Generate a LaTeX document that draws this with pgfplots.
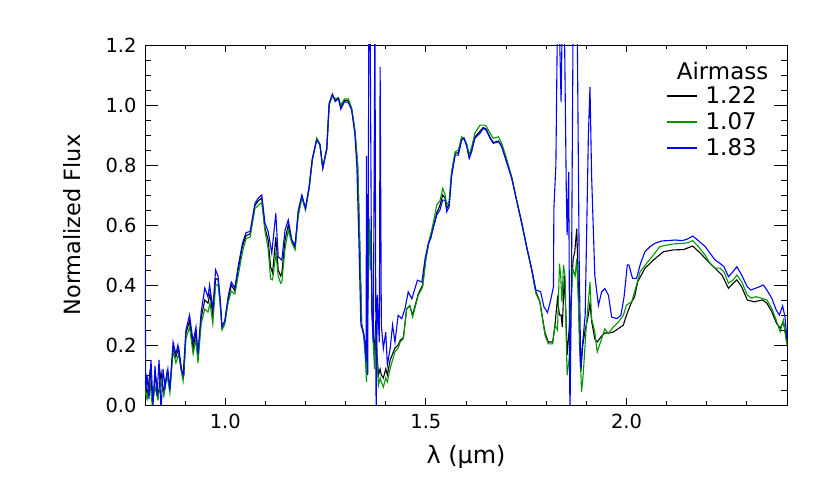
\documentclass[border=0pt]{standalone}
\usepackage{pgfplots}
\pgfplotsset{compat=1.18}
\usepackage{fontspec}
\setmainfont{DejaVu Sans}
\definecolor{cgreen}{RGB}{0,150,0}
\definecolor{cblue}{RGB}{0,0,255}
\begin{document}
\begin{tikzpicture}
\useasboundingbox (-145bp,-93bp) rectangle (685bp,405bp);
\begin{axis}[
  at={(0,0)}, anchor=south west,
  width=642bp, height=360bp, scale only axis,
  xmin=0.8, xmax=2.4, ymin=0, ymax=1.2,
  xtick={1.0,1.5,2.0},
  minor xtick={0.8,0.9,1.1,1.2,1.3,1.4,1.6,1.7,1.8,1.9,2.1,2.2,2.3,2.4},
  ytick={0,0.2,0.4,0.6,0.8,1.0,1.2},
  minor ytick={0.05,0.1,0.15,0.25,0.3,0.35,0.45,0.5,0.55,0.65,0.7,0.75,0.85,0.9,0.95,1.05,1.1,1.15},
  tick align=inside,
  every major x tick/.append style={/pgfplots/major tick length=7.2bp},
  every minor x tick/.append style={/pgfplots/minor tick length=3.6bp},
  every major y tick/.append style={/pgfplots/major tick length=12.8bp},
  every minor y tick/.append style={/pgfplots/minor tick length=6.4bp},
  major tick length=10bp, minor tick length=5bp,
  tick style={line width=0.9bp, black},
  axis line style={line width=0.9bp},
  /pgf/number format/assume math mode=true,
  /pgf/number format/.cd, fixed, fixed zerofill, precision=1, /pgfplots/.cd,
  ticklabel style={font=\fontsize{19.5}{23}\selectfont},
  xticklabel style={yshift=-6bp},
  yticklabel style={xshift=-5bp},
  xlabel={λ (μm)},
  ylabel={Normalized Flux},
  xlabel style={at={([yshift=-58bp]axis description cs:0.5,0)}, anchor=base, font=\fontsize{24}{27}\selectfont},
  ylabel style={at={([xshift=-73bp]axis description cs:0,0.5)}, anchor=center, font=\fontsize{22.5}{26}\selectfont},
  legend style={at={(rel axis cs:0.811,0.889)}, anchor=north west, draw=none, fill=none,
    font=\fontsize{23}{26}\selectfont, inner sep=0pt, row sep=4.5bp, column sep=7bp,
    nodes={inner sep=1.5bp}},
  legend cell align=left,
  legend image code/.code={\draw[#1, line width=1.3bp] (0bp,0bp) -- (30bp,0bp);},
  every axis plot/.append style={line width=1.1bp},
  clip=true,
]
\addplot[black] coordinates {
(0.800,0.08)(0.806,0.03)(0.813,0.12)(0.819,0.01)(0.826,0.10)(0.833,0.03)(0.840,0.11)(0.847,0.04)(0.855,0.11)(0.862,0.06)(0.870,0.19)(0.877,0.16)(0.884,0.19)(0.892,0.11)(0.897,0.10)(0.902,0.24)(0.911,0.28)(0.920,0.19)(0.927,0.24)(0.932,0.16)(0.940,0.29)(0.949,0.35)(0.957,0.34)(0.962,0.37)(0.969,0.30)(0.976,0.42)(0.982,0.42)(0.987,0.35)(0.992,0.26)(0.999,0.28)(1.007,0.35)(1.015,0.40)(1.024,0.38)(1.032,0.45)(1.043,0.53)(1.052,0.565)(1.062,0.57)(1.074,0.665)(1.082,0.68)(1.091,0.69)(1.099,0.59)(1.107,0.55)(1.113,0.46)(1.118,0.44)(1.126,0.56)(1.132,0.45)(1.138,0.43)(1.141,0.44)(1.149,0.55)(1.157,0.60)(1.166,0.545)(1.174,0.525)(1.182,0.64)(1.191,0.695)(1.200,0.653)(1.209,0.724)(1.217,0.818)(1.228,0.886)(1.236,0.868)(1.243,0.79)(1.253,0.853)(1.259,1.003)(1.267,1.033)(1.274,1.015)(1.282,1.023)(1.288,0.993)(1.297,1.015)(1.307,1.014)(1.315,0.987)(1.323,0.913)(1.330,0.80)(1.335,0.55)(1.340,0.27)(1.345,0.24)(1.349,0.19)(1.352,0.12)(1.355,0.35)(1.357,0.63)(1.359,0.57)(1.361,0.50)(1.364,0.55)(1.366,0.32)(1.369,0.22)(1.372,0.18)(1.375,0.28)(1.378,0.17)(1.382,0.10)(1.386,0.12)(1.389,0.10)(1.394,0.09)(1.400,0.12)(1.404,0.10)(1.411,0.15)(1.417,0.17)(1.423,0.19)(1.431,0.20)(1.436,0.215)(1.444,0.225)(1.452,0.32)(1.460,0.33)(1.467,0.30)(1.481,0.37)(1.492,0.40)(1.500,0.488)(1.508,0.545)(1.514,0.57)(1.522,0.61)(1.527,0.64)(1.535,0.665)(1.542,0.70)(1.548,0.69)(1.552,0.655)(1.558,0.67)(1.564,0.77)(1.573,0.84)(1.581,0.84)(1.589,0.885)(1.595,0.89)(1.602,0.865)(1.608,0.825)(1.614,0.85)(1.622,0.893)(1.635,0.913)(1.643,0.925)(1.650,0.92)(1.660,0.892)(1.668,0.875)(1.681,0.88)(1.689,0.862)(1.701,0.812)(1.714,0.757)(1.726,0.683)(1.739,0.606)(1.751,0.528)(1.764,0.45)(1.774,0.378)(1.784,0.345)(1.797,0.24)(1.805,0.21)(1.816,0.21)(1.822,0.27)(1.828,0.354)(1.833,0.30)(1.837,0.30)(1.840,0.26)(1.845,0.43)(1.849,0.30)(1.852,0.166)(1.857,0.25)(1.861,0.33)(1.867,0.488)(1.871,0.51)(1.876,0.588)(1.879,0.45)(1.883,0.20)(1.886,0.11)(1.891,0.20)(1.897,0.25)(1.905,0.30)(1.909,0.34)(1.913,0.28)(1.921,0.22)(1.927,0.21)(1.938,0.23)(1.946,0.24)(1.955,0.24)(1.967,0.243)(1.980,0.255)(1.992,0.266)(2.000,0.30)(2.013,0.344)(2.020,0.36)(2.028,0.411)(2.046,0.456)(2.067,0.483)(2.092,0.511)(2.117,0.517)(2.142,0.518)(2.165,0.53)(2.184,0.506)(2.204,0.478)(2.225,0.45)(2.238,0.433)(2.254,0.389)(2.266,0.406)(2.275,0.417)(2.287,0.394)(2.301,0.35)(2.318,0.344)(2.339,0.35)(2.350,0.339)(2.362,0.311)(2.374,0.272)(2.383,0.256)(2.391,0.278)(2.400,0.206)
};
\addlegendentry{1.22}
\addplot[cgreen] coordinates {
(0.800,0.05)(0.805,0.02)(0.812,0.08)(0.818,0.0)(0.825,0.06)(0.832,0.02)(0.840,0.08)(0.847,0.03)(0.855,0.10)(0.862,0.04)(0.870,0.18)(0.877,0.14)(0.884,0.17)(0.892,0.10)(0.895,0.08)(0.902,0.22)(0.911,0.26)(0.920,0.17)(0.927,0.22)(0.932,0.14)(0.940,0.27)(0.949,0.32)(0.957,0.31)(0.962,0.34)(0.969,0.27)(0.976,0.40)(0.982,0.40)(0.987,0.34)(0.992,0.25)(0.999,0.27)(1.007,0.34)(1.015,0.38)(1.024,0.37)(1.032,0.43)(1.043,0.51)(1.052,0.555)(1.062,0.56)(1.074,0.655)(1.082,0.665)(1.091,0.675)(1.099,0.58)(1.107,0.52)(1.113,0.42)(1.118,0.417)(1.126,0.506)(1.132,0.43)(1.138,0.406)(1.141,0.41)(1.149,0.52)(1.157,0.583)(1.166,0.54)(1.174,0.517)(1.182,0.63)(1.191,0.69)(1.200,0.65)(1.209,0.72)(1.217,0.815)(1.228,0.89)(1.236,0.87)(1.243,0.79)(1.253,0.85)(1.259,1.0)(1.267,1.03)(1.274,1.02)(1.282,1.025)(1.288,1.00)(1.297,1.02)(1.307,1.02)(1.315,0.99)(1.323,0.92)(1.330,0.80)(1.335,0.55)(1.340,0.27)(1.345,0.23)(1.349,0.16)(1.352,0.077)(1.355,0.30)(1.357,0.55)(1.359,0.62)(1.361,0.45)(1.363,0.58)(1.366,0.30)(1.369,0.20)(1.372,0.12)(1.375,0.25)(1.378,0.15)(1.382,0.067)(1.386,0.09)(1.389,0.077)(1.394,0.06)(1.400,0.09)(1.404,0.077)(1.411,0.121)(1.417,0.15)(1.423,0.177)(1.431,0.19)(1.436,0.21)(1.444,0.221)(1.452,0.321)(1.460,0.332)(1.467,0.293)(1.481,0.366)(1.492,0.393)(1.500,0.488)(1.508,0.549)(1.514,0.58)(1.522,0.63)(1.527,0.667)(1.535,0.68)(1.542,0.722)(1.548,0.70)(1.552,0.667)(1.558,0.68)(1.564,0.778)(1.573,0.844)(1.581,0.85)(1.589,0.894)(1.595,0.89)(1.602,0.87)(1.608,0.833)(1.616,0.87)(1.622,0.906)(1.635,0.933)(1.645,0.933)(1.650,0.93)(1.660,0.906)(1.668,0.889)(1.681,0.894)(1.689,0.872)(1.701,0.822)(1.714,0.76)(1.726,0.683)(1.739,0.606)(1.751,0.528)(1.764,0.45)(1.774,0.372)(1.784,0.343)(1.797,0.232)(1.805,0.204)(1.816,0.204)(1.822,0.266)(1.828,0.25)(1.833,0.471)(1.836,0.43)(1.839,0.343)(1.843,0.466)(1.847,0.43)(1.850,0.21)(1.852,0.099)(1.857,0.154)(1.861,0.30)(1.866,0.454)(1.872,0.43)(1.876,0.488)(1.882,0.27)(1.888,0.043)(1.892,0.10)(1.900,0.266)(1.909,0.41)(1.913,0.288)(1.921,0.243)(1.927,0.177)(1.938,0.221)(1.946,0.254)(1.955,0.238)(1.967,0.26)(1.980,0.277)(1.992,0.299)(2.000,0.333)(2.013,0.344)(2.025,0.40)(2.034,0.444)(2.050,0.472)(2.067,0.50)(2.083,0.528)(2.100,0.533)(2.117,0.537)(2.142,0.539)(2.153,0.541)(2.165,0.548)(2.179,0.528)(2.196,0.50)(2.208,0.472)(2.221,0.456)(2.233,0.456)(2.243,0.444)(2.254,0.406)(2.266,0.417)(2.275,0.433)(2.287,0.411)(2.301,0.367)(2.311,0.356)(2.323,0.361)(2.336,0.356)(2.350,0.35)(2.362,0.322)(2.373,0.283)(2.383,0.244)(2.391,0.283)(2.400,0.20)
};
\addlegendentry{1.07}
\addplot[cblue] coordinates {
(0.800,0.50)(0.802,0.05)(0.805,0.10)(0.810,0.02)(0.815,0.15)(0.820,0.00)(0.825,0.13)(0.830,0.03)(0.835,0.15)(0.840,-0.02)(0.845,0.12)(0.850,0.06)(0.857,0.12)(0.862,0.05)(0.870,0.21)(0.877,0.17)(0.882,0.20)(0.890,0.12)(0.895,0.10)(0.902,0.25)(0.911,0.30)(0.920,0.21)(0.927,0.26)(0.932,0.17)(0.940,0.31)(0.949,0.39)(0.957,0.36)(0.961,0.40)(0.969,0.32)(0.976,0.45)(0.982,0.43)(0.987,0.36)(0.992,0.26)(0.999,0.28)(1.007,0.36)(1.015,0.41)(1.024,0.39)(1.032,0.46)(1.043,0.54)(1.052,0.575)(1.062,0.578)(1.074,0.672)(1.082,0.689)(1.091,0.70)(1.099,0.606)(1.107,0.578)(1.116,0.506)(1.126,0.639)(1.132,0.494)(1.141,0.483)(1.149,0.583)(1.157,0.617)(1.166,0.55)(1.174,0.533)(1.182,0.65)(1.191,0.70)(1.200,0.656)(1.209,0.728)(1.217,0.822)(1.228,0.883)(1.236,0.867)(1.243,0.789)(1.253,0.856)(1.259,1.006)(1.267,1.037)(1.274,1.011)(1.282,1.022)(1.288,0.986)(1.297,1.011)(1.307,1.008)(1.315,0.983)(1.323,0.906)(1.328,0.794)(1.333,0.55)(1.338,0.267)(1.344,0.243)(1.348,0.21)(1.351,0.143)(1.352,0.83)(1.355,0.10)(1.358,1.3)(1.361,1.3)(1.365,0.32)(1.369,0.21)(1.373,1.3)(1.376,-0.05)(1.379,0.367)(1.384,0.21)(1.386,1.127)(1.389,0.267)(1.394,0.188)(1.400,0.243)(1.404,0.133)(1.411,0.188)(1.417,0.267)(1.423,0.21)(1.431,0.299)(1.440,0.288)(1.448,0.321)(1.456,0.377)(1.465,0.354)(1.479,0.416)(1.490,0.41)(1.498,0.488)(1.506,0.538)(1.512,0.554)(1.519,0.594)(1.527,0.633)(1.535,0.65)(1.542,0.683)(1.548,0.683)(1.552,0.644)(1.558,0.661)(1.564,0.761)(1.573,0.833)(1.581,0.833)(1.589,0.883)(1.595,0.889)(1.602,0.861)(1.608,0.822)(1.614,0.844)(1.622,0.889)(1.635,0.906)(1.643,0.922)(1.650,0.917)(1.660,0.889)(1.668,0.872)(1.681,0.878)(1.689,0.861)(1.701,0.811)(1.714,0.756)(1.726,0.683)(1.739,0.606)(1.751,0.528)(1.764,0.45)(1.774,0.383)(1.786,0.378)(1.794,0.328)(1.803,0.308)(1.811,0.35)(1.818,0.394)(1.819,0.654)(1.824,0.799)(1.828,1.3)(1.832,1.3)(1.837,1.01)(1.840,1.3)(1.845,1.3)(1.850,0.71)(1.852,0.566)(1.856,0.777)(1.859,-0.05)(1.863,0.432)(1.867,1.3)(1.872,1.3)(1.877,1.3)(1.882,0.488)(1.886,0.121)(1.891,0.21)(1.897,0.299)(1.905,0.899)(1.909,1.06)(1.913,0.766)(1.921,0.432)(1.930,0.332)(1.938,0.377)(1.946,0.388)(1.955,0.366)(1.963,0.293)(1.976,0.288)(1.986,0.299)(1.994,0.361)(2.002,0.467)(2.006,0.467)(2.015,0.422)(2.025,0.422)(2.035,0.472)(2.046,0.511)(2.059,0.528)(2.071,0.539)(2.088,0.547)(2.104,0.548)(2.121,0.55)(2.138,0.548)(2.150,0.552)(2.165,0.563)(2.179,0.548)(2.196,0.528)(2.208,0.506)(2.221,0.483)(2.233,0.472)(2.243,0.461)(2.254,0.428)(2.262,0.439)(2.275,0.461)(2.287,0.433)(2.301,0.394)(2.310,0.383)(2.321,0.389)(2.331,0.394)(2.341,0.40)(2.350,0.383)(2.362,0.356)(2.373,0.317)(2.381,0.30)(2.389,0.33)(2.395,0.294)(2.400,0.217)
};
\addlegendentry{1.83}
\node[anchor=base east, font=\fontsize{23}{26}\selectfont, inner sep=0pt] at (rel axis cs:0.971,0.903) {Airmass};
\end{axis}
\end{tikzpicture}
\end{document}
